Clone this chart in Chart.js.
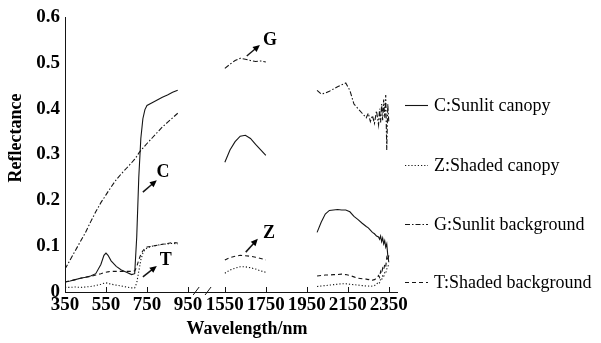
<!DOCTYPE html>
<html>
<head>
<meta charset="utf-8">
<script src="https://cdn.jsdelivr.net/npm/chart.js@4.4.1/dist/chart.umd.min.js"></script>
<style>
  html, body { margin: 0; padding: 0; background: #fff; }
  #wrap { width: 601px; height: 343px; }
</style>
</head>
<body>
<div id="wrap"><canvas id="c" width="601" height="343"></canvas></div>
<script>
// Wavelength sampling (nm) for the three measured bands
const nmVNIR = [350, 375, 400, 425, 450, 475, 500, 525, 540, 550, 560, 575, 600, 625, 650, 675, 690, 700, 710, 720, 730, 740, 750, 775, 800, 825, 850, 875, 900];
const nmSWIR1 = [1550, 1575, 1600, 1625, 1650, 1675, 1700, 1725, 1750];
const nmSWIR2 = [2000, 2020, 2040, 2060, 2080, 2100, 2120, 2140, 2160, 2180, 2200, 2220, 2240, 2250, 2260, 2270, 2280, 2290, 2300, 2305, 2310, 2315, 2320, 2325, 2330, 2335, 2340, 2345, 2350];

// C: sunlit canopy
const sunlitCanopyVNIR = [0.022, 0.024, 0.027, 0.030, 0.032, 0.035, 0.040, 0.060, 0.080, 0.085, 0.080, 0.068, 0.056, 0.048, 0.043, 0.038, 0.040, 0.120, 0.250, 0.335, 0.378, 0.398, 0.407, 0.413, 0.419, 0.425, 0.430, 0.436, 0.440];
const sunlitCanopySWIR1 = [0.283, 0.310, 0.328, 0.340, 0.342, 0.335, 0.322, 0.310, 0.298];
const sunlitCanopySWIR2 = [0.130, 0.152, 0.170, 0.178, 0.179, 0.180, 0.179, 0.179, 0.175, 0.165, 0.158, 0.150, 0.143, 0.140, 0.135, 0.130, 0.127, 0.122, 0.120, 0.115, 0.122, 0.110, 0.118, 0.105, 0.112, 0.098, 0.105, 0.080, 0.065];

// Z: shaded canopy
const shadedCanopyVNIR = [0.010, 0.010, 0.011, 0.010, 0.011, 0.012, 0.014, 0.017, 0.019, 0.020, 0.019, 0.017, 0.015, 0.013, 0.011, 0.009, 0.009, 0.020, 0.045, 0.070, 0.085, 0.092, 0.096, 0.100, 0.102, 0.104, 0.105, 0.106, 0.105];
const shadedCanopySWIR1 = [0.041, 0.048, 0.052, 0.055, 0.055, 0.053, 0.050, 0.046, 0.043];
const shadedCanopySWIR2 = [0.012, 0.013, 0.014, 0.015, 0.016, 0.017, 0.018, 0.018, 0.017, 0.016, 0.015, 0.014, 0.013, 0.013, 0.012, 0.013, 0.014, 0.017, 0.022, 0.020, 0.028, 0.026, 0.035, 0.032, 0.042, 0.040, 0.050, 0.055, 0.060];

// G: sunlit background
const sunlitBackgroundVNIR = [0.050, 0.070, 0.090, 0.110, 0.130, 0.153, 0.175, 0.195, 0.205, 0.212, 0.219, 0.229, 0.245, 0.258, 0.270, 0.282, 0.290, 0.296, 0.303, 0.309, 0.314, 0.319, 0.324, 0.336, 0.348, 0.360, 0.370, 0.380, 0.390];
const sunlitBackgroundSWIR1 = [0.488, 0.497, 0.505, 0.510, 0.508, 0.505, 0.503, 0.504, 0.502];
const sunlitBackgroundSWIR2 = [0.440, 0.432, 0.434, 0.438, 0.443, 0.448, 0.452, 0.456, 0.440, 0.410, 0.400, 0.390, 0.380, 0.390, 0.372, 0.385, 0.368, 0.395, 0.365, 0.400, 0.370, 0.410, 0.375, 0.420, 0.380, 0.430, 0.310, 0.410, 0.370];

// T: shaded background
const shadedBackgroundVNIR = [0.022, 0.024, 0.027, 0.030, 0.032, 0.034, 0.037, 0.040, 0.042, 0.043, 0.044, 0.045, 0.045, 0.045, 0.045, 0.045, 0.046, 0.055, 0.070, 0.082, 0.090, 0.095, 0.098, 0.100, 0.102, 0.104, 0.106, 0.108, 0.107];
const shadedBackgroundSWIR1 = [0.070, 0.075, 0.078, 0.080, 0.079, 0.078, 0.076, 0.073, 0.070];
const shadedBackgroundSWIR2 = [0.035, 0.036, 0.037, 0.037, 0.038, 0.038, 0.039, 0.038, 0.036, 0.033, 0.030, 0.029, 0.028, 0.027, 0.028, 0.026, 0.027, 0.030, 0.036, 0.032, 0.045, 0.040, 0.052, 0.048, 0.060, 0.055, 0.075, 0.068, 0.080];

const seriesNames = ['C:Sunlit canopy', 'Z:Shaded canopy', 'G:Sunlit background', 'T:Shaded background'];
const xTickLabels = [350, 550, 750, 950, 1550, 1750, 1950, 2150, 2350];
const yTickValues = [0, 0.1, 0.2, 0.3, 0.4, 0.5, 0.6];

// Letter callouts with their arrows, in (nm, reflectance)
const callouts = [
  { text: 'G', at: [1770, 0.548], from: [1657, 0.515], to: [1721, 0.539] },
  { text: 'C', at: [828, 0.262], from: [730, 0.218], to: [798, 0.244] },
  { text: 'Z', at: [1765, 0.127], from: [1652, 0.087], to: [1711, 0.116] },
  { text: 'T', at: [842, 0.070], from: [730, 0.033], to: [798, 0.057] }
];

// The 950–1550 nm stretch is not measured; the axis skips most of it.
const GAP_SHIFT = 420;
function axisPos(nm) { return nm <= 950 ? nm : nm - GAP_SHIFT; }
function axisNm(t) { return t <= 950 ? t : t + GAP_SHIFT; }

function toPoints(bands) {
  const pts = [];
  bands.forEach(([nms, vals], i) => {
    if (i > 0) pts.push({ x: axisPos(nms[0]) - 1, y: null });
    nms.forEach((nm, k) => pts.push({ x: axisPos(nm), y: vals[k] }));
  });
  return pts;
}

const SERIF = '"Liberation Serif", "Times New Roman", serif';
const INK = '#151515';

const datasets = [
  { label: seriesNames[0], data: toPoints([[nmVNIR, sunlitCanopyVNIR], [nmSWIR1, sunlitCanopySWIR1], [nmSWIR2, sunlitCanopySWIR2]]), borderDash: [] },
  { label: seriesNames[1], data: toPoints([[nmVNIR, shadedCanopyVNIR], [nmSWIR1, shadedCanopySWIR1], [nmSWIR2, shadedCanopySWIR2]]), borderDash: [1.2, 2] },
  { label: seriesNames[2], data: toPoints([[nmVNIR, sunlitBackgroundVNIR], [nmSWIR1, sunlitBackgroundSWIR1], [nmSWIR2, sunlitBackgroundSWIR2]]), borderDash: [5, 2, 1.5, 2] },
  { label: seriesNames[3], data: toPoints([[nmVNIR, shadedBackgroundVNIR], [nmSWIR1, shadedBackgroundSWIR1], [nmSWIR2, shadedBackgroundSWIR2]]), borderDash: [4, 3] }
].map(d => Object.assign(d, {
  borderColor: INK, borderWidth: 1.1, pointRadius: 0, tension: 0, spanGaps: false, fill: false
}));

// Inward x ticks, axis-break marks, titles, callouts and the side legend
const decorations = {
  id: 'decorations',
  afterDraw(chart) {
    const { ctx, chartArea: a, scales: { x, y } } = chart;
    ctx.save();
    ctx.strokeStyle = INK;
    ctx.lineWidth = 1;
    // inward tick marks
    xTickLabels.forEach(nm => {
      const px = Math.round(x.getPixelForValue(axisPos(nm))) + 0.5;
      ctx.beginPath(); ctx.moveTo(px, a.bottom); ctx.lineTo(px, a.bottom - 5); ctx.stroke();
    });
    // break marks
    [990, 1048].forEach(t => {
      const px = x.getPixelForValue(t);
      ctx.beginPath(); ctx.moveTo(px - 3, a.bottom + 3); ctx.lineTo(px + 3, a.bottom - 5); ctx.stroke();
    });
    // axis titles
    ctx.fillStyle = '#000';
    ctx.font = 'bold 18px ' + SERIF;
    ctx.textAlign = 'center';
    ctx.textBaseline = 'middle';
    ctx.fillText('Wavelength/nm', 247, 329);
    ctx.save();
    ctx.translate(16, 138);
    ctx.rotate(-Math.PI / 2);
    ctx.fillText('Reflectance', 0, 0);
    ctx.restore();
    // callouts
    callouts.forEach(c => {
      const lx = x.getPixelForValue(axisPos(c.at[0])), ly = y.getPixelForValue(c.at[1]);
      ctx.font = 'bold 18px ' + SERIF;
      ctx.fillText(c.text, lx, ly);
      const x0 = x.getPixelForValue(axisPos(c.from[0])), y0 = y.getPixelForValue(c.from[1]);
      const x1 = x.getPixelForValue(axisPos(c.to[0])), y1 = y.getPixelForValue(c.to[1]);
      const ang = Math.atan2(y1 - y0, x1 - x0);
      ctx.lineWidth = 1.5;
      ctx.beginPath(); ctx.moveTo(x0, y0); ctx.lineTo(x1 - 4 * Math.cos(ang), y1 - 4 * Math.sin(ang)); ctx.stroke();
      ctx.beginPath();
      ctx.moveTo(x1, y1);
      ctx.lineTo(x1 - 7 * Math.cos(ang) + 3.2 * Math.sin(ang), y1 - 7 * Math.sin(ang) - 3.2 * Math.cos(ang));
      ctx.lineTo(x1 - 7 * Math.cos(ang) - 3.2 * Math.sin(ang), y1 - 7 * Math.sin(ang) + 3.2 * Math.cos(ang));
      ctx.closePath(); ctx.fillStyle = '#000'; ctx.fill();
    });
    // legend
    const rows = [105, 165, 224, 282];
    ctx.font = '18px ' + SERIF;
    ctx.textAlign = 'left';
    chart.data.datasets.forEach((ds, i) => {
      ctx.strokeStyle = INK;
      ctx.lineWidth = 1.1;
      ctx.setLineDash(ds.borderDash);
      ctx.beginPath(); ctx.moveTo(405, rows[i] + 0.5); ctx.lineTo(428, rows[i] + 0.5); ctx.stroke();
      ctx.setLineDash([]);
      ctx.fillStyle = '#000';
      ctx.fillText(ds.label, 434, rows[i] + 1);
    });
    ctx.restore();
  }
};

new Chart(document.getElementById('c'), {
  type: 'line',
  data: { datasets },
  options: {
    responsive: false,
    devicePixelRatio: 1,
    animation: false,
    layout: { padding: { top: 17, right: 204, left: 0, bottom: 0 } },
    plugins: { legend: { display: false }, tooltip: { enabled: false } },
    scales: {
      x: {
        type: 'linear',
        min: 350,
        max: 1970,
        afterBuildTicks(scale) { scale.ticks = xTickLabels.map(nm => ({ value: axisPos(nm) })); },
        afterFit(scale) { scale.height = 51; },
        ticks: {
          autoSkip: false,
          maxRotation: 0,
          padding: 2,
          color: '#000',
          font: { family: SERIF, size: 19, weight: 'bold' },
          callback: v => String(axisNm(v))
        },
        grid: { display: false, drawTicks: false },
        border: { display: true, color: INK, width: 1 }
      },
      y: {
        min: 0,
        max: 0.6,
        afterBuildTicks(scale) { scale.ticks = yTickValues.map(v => ({ value: v })); },
        afterFit(scale) { scale.width = 65; },
        ticks: {
          padding: 5,
          color: '#000',
          font: { family: SERIF, size: 19, weight: 'bold' },
          callback: v => (v === 0 ? '0' : v.toFixed(1))
        },
        grid: { display: false, drawTicks: false },
        border: { display: true, color: INK, width: 1 }
      }
    }
  },
  plugins: [decorations]
});
</script>
</body>
</html>
